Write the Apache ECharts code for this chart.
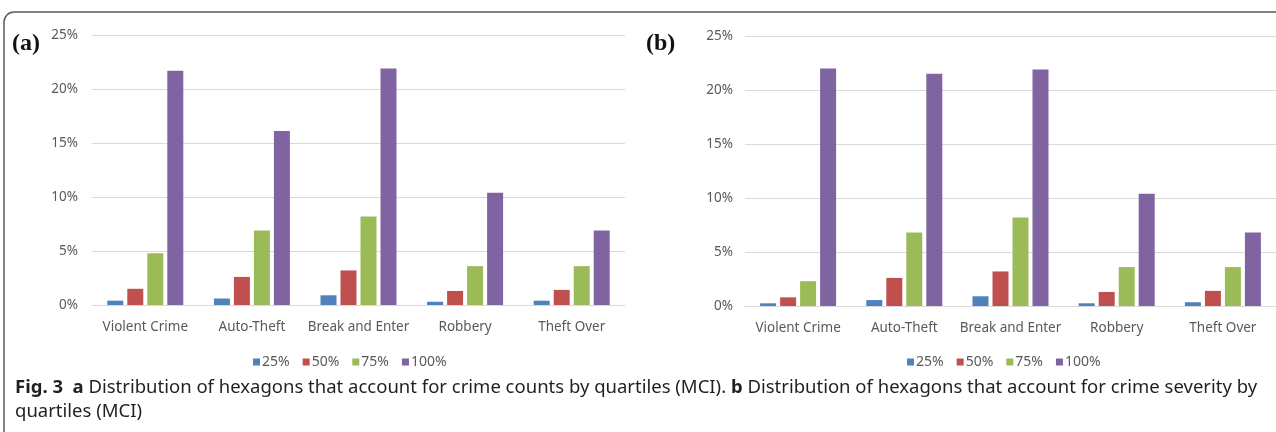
<!DOCTYPE html>
<html>
<head>
<meta charset="utf-8">
<script src="https://cdn.jsdelivr.net/npm/echarts@6/dist/echarts.min.js"></script>
<style>
  html, body { margin: 0; padding: 0; background: #fff; }
  #chart { width: 1276px; height: 432px; }
</style>
</head>
<body>
<div id="chart"></div>
<script>
// Crime categories (Major Crime Indicators)
const categories = ['Violent Crime', 'Auto-Theft', 'Break and Enter', 'Robbery', 'Theft Over'];
// Quartile series names
const quartiles = ['25%', '50%', '75%', '100%'];
const yTicks = [0, 5, 10, 15, 20, 25];

// (a) share of hexagons accounting for crime counts, per quartile (%)
const countsQ25  = [0.4, 0.6, 0.9, 0.3, 0.4];
const countsQ50  = [1.5, 2.6, 3.2, 1.3, 1.4];
const countsQ75  = [4.8, 6.9, 8.2, 3.6, 3.6];
const countsQ100 = [21.7, 16.1, 21.9, 10.4, 6.9];

// (b) share of hexagons accounting for crime severity, per quartile (%)
const severityQ25  = [0.25, 0.55, 0.9, 0.25, 0.35];
const severityQ50  = [0.8, 2.6, 3.2, 1.3, 1.4];
const severityQ75  = [2.3, 6.8, 8.2, 3.6, 3.6];
const severityQ100 = [22.0, 21.5, 21.9, 10.4, 6.8];

const colors = ['#4F81BD', '#C0504D', '#9BBB59', '#8064A2'];
const tickFont = 'Noto Sans';
const labelColor = '#595959';
const gridColor = '#D9D9D9';

const chart = echarts.init(document.getElementById('chart'), null, { renderer: 'canvas' });

function xAxisFor(gridIndex) {
  return {
    type: 'category', gridIndex, data: categories,
    axisLine: { lineStyle: { color: gridColor, width: 1 } },
    axisTick: { show: false },
    axisLabel: { interval: 0, color: labelColor, fontFamily: tickFont, fontSize: 13.5, margin: 15 }
  };
}
function yAxisFor(gridIndex, margin) {
  return {
    type: 'value', gridIndex, min: yTicks[0], max: yTicks[yTicks.length - 1], interval: 5,
    axisLine: { show: false }, axisTick: { show: false },
    splitLine: { lineStyle: { color: gridColor, width: 1 } },
    axisLabel: { color: labelColor, fontFamily: tickFont, fontSize: 13.5, margin, formatter: '{value}%' }
  };
}
function barSeries(name, data, axisIndex, color) {
  return {
    name, type: 'bar', data, xAxisIndex: axisIndex, yAxisIndex: axisIndex,
    barWidth: 16, barGap: '25%', itemStyle: { color }, animation: false
  };
}

const countsData = [countsQ25, countsQ50, countsQ75, countsQ100];
const severityData = [severityQ25, severityQ50, severityQ75, severityQ100];

const series = [];
quartiles.forEach((q, i) => series.push(barSeries(q, countsData[i], 0, colors[i])));
quartiles.forEach((q, i) => series.push(barSeries(q, severityData[i], 1, colors[i])));

function legendAt(left) {
  return {
    data: quartiles, top: 350, left, itemWidth: 7, itemHeight: 7,
    itemGap: 13, icon: 'rect',
    textStyle: { color: labelColor, fontFamily: tickFont, fontSize: 14, padding: [0, 0, 0, -3] }
  };
}

chart.setOption({
  animation: false,
  color: colors,
  grid: [
    { left: 92, top: 35, width: 533, height: 270 },
    { left: 745, top: 36, width: 540, height: 270 }
  ],
  xAxis: [xAxisFor(0), xAxisFor(1)],
  yAxis: [yAxisFor(0, 14), yAxisFor(1, 12)],
  legend: [legendAt(248), legendAt(902)],
  series,
  graphic: [
    {
      type: 'rect', silent: true,
      shape: { x: 4, y: 12, width: 1310, height: 440, r: 10 },
      style: { fill: 'none', stroke: '#5a5a5a', lineWidth: 1.5 }
    },
    {
      type: 'text', left: 12, top: 32,
      style: { text: '(a)', font: 'bold 24px "Liberation Serif"', fill: '#111' }
    },
    {
      type: 'text', left: 646, top: 32,
      style: { text: '(b)', font: 'bold 24px "Liberation Serif"', fill: '#111' }
    },
    {
      type: 'text', left: 15, top: 376,
      style: {
        text: '{b|Fig. 3}  {b|a} Distribution of hexagons that account for crime counts by quartiles (MCI). {b|b} Distribution of hexagons that account for crime severity by\nquartiles (MCI)',
        fontFamily: 'Noto Sans', fontSize: 18.5, fill: '#231f20', lineHeight: 24,
        rich: { b: { fontWeight: 'bold', fontFamily: 'Noto Sans', fontSize: 18.5, fill: '#231f20', lineHeight: 24 } }
      }
    }
  ]
});
</script>
</body>
</html>
